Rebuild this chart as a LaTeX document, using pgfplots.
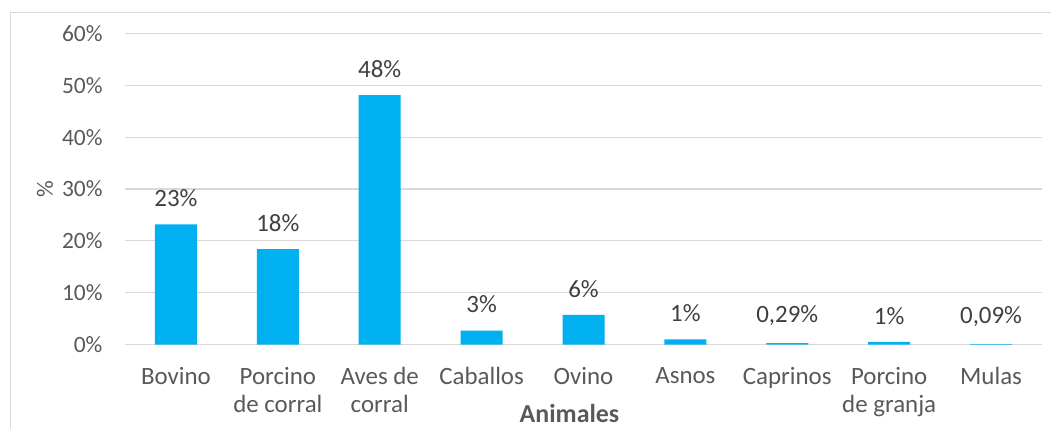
\documentclass[border=0pt]{standalone}
\usepackage{pgfplots}
\pgfplotsset{compat=1.18}
\usepackage{fontspec}
\setmainfont{Carlito}
\definecolor{barblue}{HTML}{00B0F0}
\definecolor{txt}{HTML}{595959}
\definecolor{lbl}{HTML}{404040}
\definecolor{gridc}{HTML}{D9D9D9}
\begin{document}
\begin{tikzpicture}[x=1bp,y=1bp]
\useasboundingbox (0,0) rectangle (1051,-428);
\draw[gridc,line width=1bp] (10,-440) -- (10,-12) -- (1060,-12);
\begin{axis}[
  at={(125bp,-344.5bp)}, anchor=south west,
  scale only axis, width=917bp, height=311bp,
  xmin=-0.5, xmax=8.5, ymin=0, ymax=60,
  axis line style={draw=none},
  ytick={0,10,...,60},
  yticklabel={\pgfmathprintnumber{\tick}\%},
  /pgf/number format/assume math mode=true,
  ymajorgrids, xmajorgrids=false, grid style={gridc,line width=1.2bp},
  xtick={0,...,8},
  xticklabels={Bovino,Porcino\\de corral,Aves de\\corral,Caballos,Ovino,Asnos,Caprinos,Porcino\\de granja,Mulas},
  xticklabel style={align=center,text=txt,font=\fontsize{25}{28}\selectfont,anchor=north,yshift=-19bp},
  yticklabel style={text=txt,font=\fontsize{23.5}{28}\selectfont,xshift=-19bp},
  major tick length=0pt,
  xlabel={\textbf{Animales}},
  xlabel style={text=txt,font=\fontsize{26}{30}\selectfont,inner sep=0pt,at={(axis description cs:0.5,0)},anchor=center,xshift=-14bp,yshift=-69bp},
  ylabel={\%},
  ylabel style={text=txt,font=\fontsize{23.5}{28}\selectfont,at={(axis description cs:0,0.5)},anchor=center,yshift=80bp},
  ybar, bar width=42bp,
  nodes near coords,
  point meta=explicit symbolic,
  every node near coord/.append style={text=lbl,font=\fontsize{25}{30}\selectfont,yshift=14bp},
  clip=false,
]
\addplot[fill=barblue,draw=none] coordinates {
  (0,23.2) [23\%]
  (1,18.4) [18\%]
  (2,48.1) [48\%]
  (3,2.7) [3\%]
  (4,5.7) [6\%]
  (5,1.0) [1\%]
  (6,0.29) [{0,29\%}]
  (7,0.5) [1\%]
  (8,0.09) [{0,09\%}]
};
\end{axis}
\end{tikzpicture}
\end{document}
